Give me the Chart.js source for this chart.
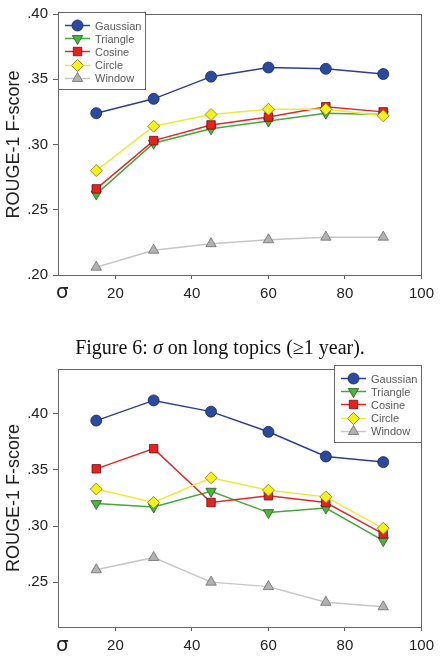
<!DOCTYPE html>
<html>
<head>
<meta charset="utf-8">
<script src="https://cdn.jsdelivr.net/npm/chart.js@4/dist/chart.umd.min.js"></script>
<style>
  html, body { margin: 0; padding: 0; overflow: hidden; }
  body { background: #fff; width: 440px; height: 664px; position: relative; }
  .box { position: absolute; left: 0; width: 440px; }
  .box canvas { display: block; }
  .caption { position: absolute; left: 0; width: 440px; top: 336px; text-align: center;
    font-family: "Liberation Serif", "DejaVu Serif", serif; font-size: 20px; color: #111; }
  .sigma { position: absolute; left: 56px; font-family: "DejaVu Sans", sans-serif; font-size: 20px; line-height: 20px; color: #222; }
  .legend { position: absolute; width: 88px; height: 78px; border: 1px solid #666; background: #fff;
    font-family: "Liberation Sans", Arial, sans-serif; font-size: 11px; color: #5a5a5a; padding-top: 6px; box-sizing: border-box; }
  .legend .row { height: 13.2px; display: flex; align-items: center; }
  .legend canvas { margin-left: 6px; margin-right: 5px; }
</style>
</head>
<body>
<div class="box" style="top:0;height:310px"><canvas id="longChart" width="440" height="310"></canvas></div>
<div class="box" style="top:355px;height:309px"><canvas id="shortChart" width="440" height="309"></canvas></div>
<div class="legend" id="longLegend" style="left:58px;top:12px"></div>
<div class="legend" id="shortLegend" style="left:334px;top:365px"></div>
<div class="sigma" style="top:281px">σ</div>
<div class="sigma" style="top:634px">σ</div>
<div class="caption">Figure 6: <i>σ</i> on long topics (≥1 year).</div>
<script>
// sigma values on the x axis
const sigma = [15, 30, 45, 60, 75, 90];
const xTicks = [20, 40, 60, 80, 100];

// upper chart (long topics)
const longGaussian = [0.324, 0.335, 0.352, 0.359, 0.358, 0.354];
const longTriangle = [0.262, 0.301, 0.312, 0.318, 0.324, 0.323];
const longCosine   = [0.266, 0.303, 0.315, 0.321, 0.329, 0.325];
const longCircle   = [0.280, 0.314, 0.323, 0.327, 0.327, 0.322];
const longWindow   = [0.206, 0.219, 0.224, 0.227, 0.229, 0.229];
const longYTicks = [0.20, 0.25, 0.30, 0.35, 0.40];

// lower chart
const shortGaussian = [0.394, 0.412, 0.402, 0.384, 0.362, 0.357];
const shortTriangle = [0.320, 0.317, 0.331, 0.312, 0.316, 0.287];
const shortCosine   = [0.351, 0.369, 0.321, 0.327, 0.321, 0.293];
const shortCircle   = [0.333, 0.321, 0.343, 0.332, 0.326, 0.298];
const shortWindow   = [0.261, 0.272, 0.250, 0.246, 0.232, 0.228];
const shortYTicks = [0.25, 0.30, 0.35, 0.40];

const seriesNames = ["Gaussian", "Triangle", "Cosine", "Circle", "Window"];

const styles = {
  Gaussian: {line: "#2c3f91", fill: "#2a4a9c", edge: "#16246a", pointStyle: "circle", rotation: 0, radius: 5.5, order: 0},
  Triangle: {line: "#45a838", fill: "#4cb33c", edge: "#2b5e1e", pointStyle: "triangle", rotation: 180, radius: 6, order: 3},
  Cosine:   {line: "#e02a2a", fill: "#e52222", edge: "#6e1010", pointStyle: "rect", rotation: 0, radius: 6, order: 2},
  Circle:   {line: "#ecea3a", fill: "#f4f01c", edge: "#7c7a10", pointStyle: "rectRot", rotation: 0, radius: 6, order: 1},
  Window:   {line: "#c6c6c6", fill: "#b2b2b2", edge: "#6c6c6c", pointStyle: "triangle", rotation: 0, radius: 6, order: 4}
};

const frame = {
  id: "frame",
  afterDraw(chart) {
    const a = chart.chartArea, ctx = chart.ctx;
    ctx.save();
    ctx.strokeStyle = "#666";
    ctx.lineWidth = 1;
    ctx.strokeRect(Math.round(a.left) + 0.5, Math.round(a.top) + 0.5, Math.round(a.right - a.left), Math.round(a.bottom - a.top));
    ctx.restore();
  }
};

function fmtY(v) {
  return v.toFixed(2).replace(/^0/, "");
}

function makeChart(id, values, yMin, yMax, yTicks, padTop, padBottom) {
  const datasets = seriesNames.map((name, i) => {
    const s = styles[name];
    return {
      label: name,
      data: sigma.map((x, j) => ({x: x, y: values[i][j]})),
      borderColor: s.line,
      borderWidth: 1.5,
      backgroundColor: s.fill,
      pointBackgroundColor: s.fill,
      pointBorderColor: s.edge,
      pointBorderWidth: 0.8,
      pointStyle: s.pointStyle,
      pointRotation: s.rotation,
      pointRadius: s.radius,
      order: s.order,
      tension: 0
    };
  });
  return new Chart(document.getElementById(id), {
    type: "line",
    data: {datasets},
    options: {
      responsive: false,
      animation: false,
      devicePixelRatio: 1,
      layout: {padding: {top: padTop, right: 17, left: 0, bottom: padBottom}},
      plugins: {legend: {display: false}, tooltip: {enabled: false}},
      scales: {
        x: {
          type: "linear",
          min: 5, max: 100,
          afterBuildTicks: scale => { scale.ticks = xTicks.map(v => ({value: v})); },
          afterFit: scale => { scale.height = 25; },
          border: {color: "#666", width: 1},
          grid: {drawOnChartArea: false, tickLength: 4, color: "#666"},
          ticks: {color: "#222", padding: 6, maxRotation: 0, autoSkip: false,
                  font: {family: "Liberation Sans", size: 15}}
        },
        y: {
          min: yMin, max: yMax,
          afterBuildTicks: scale => { scale.ticks = yTicks.map(v => ({value: v})); },
          afterFit: scale => { scale.width = 58; },
          border: {color: "#666", width: 1},
          grid: {drawOnChartArea: false, tickLength: 5, color: "#666"},
          ticks: {color: "#222", padding: 5, font: {family: "Liberation Sans", size: 15}, callback: v => fmtY(v)},
          title: {display: true, text: "ROUGE-1 F-score", color: "#222",
                  font: {family: "Liberation Sans", size: 18}, padding: {top: 3, bottom: 0}}
        }
      }
    },
    plugins: [frame]
  });
}

function makeLegend(id) {
  const box = document.getElementById(id);
  seriesNames.forEach(name => {
    const s = styles[name];
    const row = document.createElement("div");
    row.className = "row";
    const c = document.createElement("canvas");
    c.width = 25; c.height = 13;
    const ctx = c.getContext("2d");
    ctx.strokeStyle = s.line;
    ctx.lineWidth = 1.5;
    ctx.beginPath(); ctx.moveTo(0, 6.5); ctx.lineTo(25, 6.5); ctx.stroke();
    ctx.fillStyle = s.fill;
    ctx.strokeStyle = s.edge;
    ctx.lineWidth = 0.8;
    Chart.helpers.drawPoint(ctx, {pointStyle: s.pointStyle, rotation: s.rotation, radius: s.radius, borderWidth: 0.8}, 12.5, 6.5);
    row.appendChild(c);
    const t = document.createElement("span");
    t.textContent = name;
    row.appendChild(t);
    box.appendChild(row);
  });
}

makeChart("longChart", [longGaussian, longTriangle, longCosine, longCircle, longWindow], 0.20, 0.40, longYTicks, 12, 10);
makeChart("shortChart", [shortGaussian, shortTriangle, shortCosine, shortCircle, shortWindow], 0.21, 0.44, shortYTicks, 10, 12);
makeLegend("longLegend");
makeLegend("shortLegend");
</script>
</body>
</html>
